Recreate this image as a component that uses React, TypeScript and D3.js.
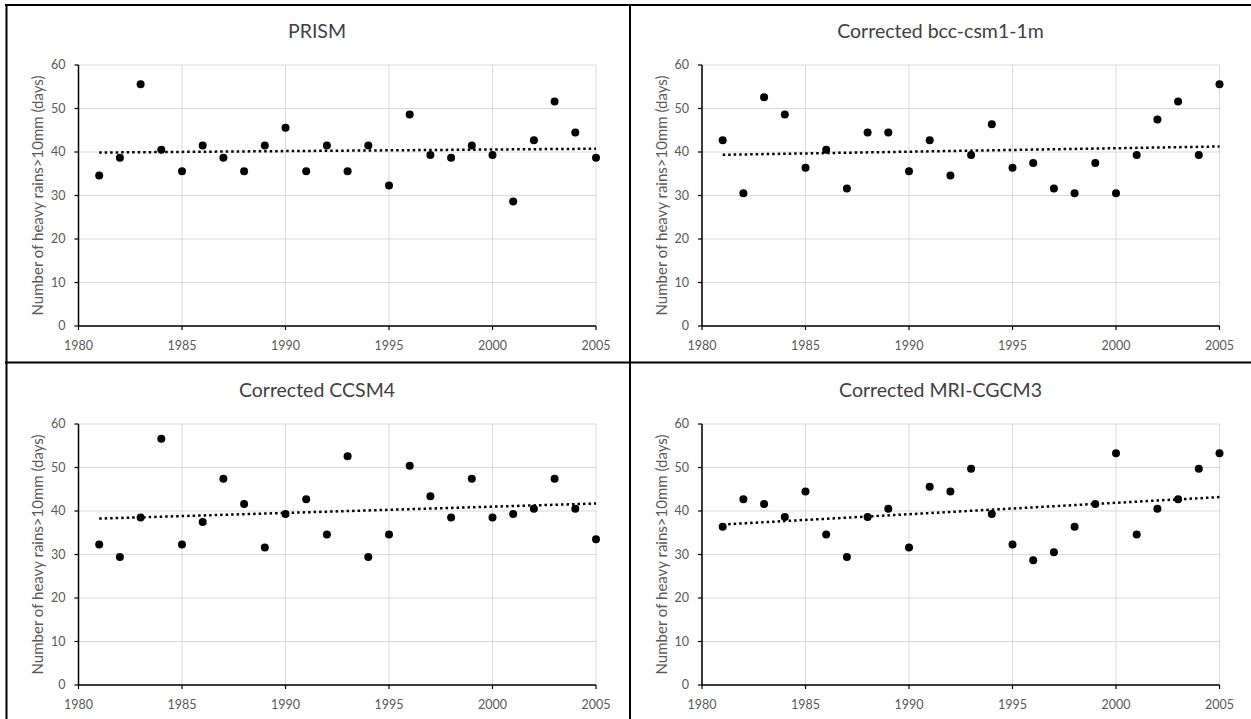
import React from "react";
import * as d3 from "d3";

// Years of record
const years: number[] = d3.range(1981, 2006);

// Annual count of heavy-rain days (>10 mm) for each dataset
const prism: number[] = [
  34.6, 38.7, 55.6, 40.5, 35.6, 41.5, 38.7, 35.6, 41.5, 45.6, 35.6, 41.5, 35.6,
  41.5, 32.3, 48.6, 39.3, 38.7, 41.5, 39.3, 28.6, 42.7, 51.6, 44.5, 38.7,
];
const bcc: number[] = [
  42.7, 30.5, 52.6, 48.6, 36.4, 40.5, 31.6, 44.5, 44.5, 35.6, 42.7, 34.6, 39.3,
  46.4, 36.4, 37.5, 31.6, 30.5, 37.5, 30.5, 39.3, 47.5, 51.6, 39.3, 55.6,
];
const ccsm4: number[] = [
  32.3, 29.4, 38.5, 56.6, 32.3, 37.5, 47.4, 41.6, 31.6, 39.3, 42.7, 34.6, 52.6,
  29.4, 34.6, 50.4, 43.4, 38.5, 47.4, 38.5, 39.3, 40.5, 47.4, 40.5, 33.5,
];
const mri: number[] = [
  36.4, 42.7, 41.6, 38.6, 44.5, 34.6, 29.4, 38.6, 40.5, 31.6, 45.6, 44.5, 49.7,
  39.3, 32.3, 28.7, 30.5, 36.4, 41.6, 53.3, 34.6, 40.5, 42.7, 49.7, 53.3,
];

const titles: string[] = [
  "PRISM",
  "Corrected bcc-csm1-1m",
  "Corrected CCSM4",
  "Corrected MRI-CGCM3",
];
const seriesList: number[][] = [prism, bcc, ccsm4, mri];

const xTicks: number[] = [1980, 1985, 1990, 1995, 2000, 2005];
const yTicks: number[] = [0, 10, 20, 30, 40, 50, 60];
const yLabel = "Number of heavy rains>10mm (days)";

const W = 1251;
const H = 719;
const FONT = "Lato, 'Open Sans', sans-serif";

// Panel frame in local coordinates
const plot = { left: 78.5, right: 596, top: 65, bottom: 326 };
const offsets = [
  { dx: 0, dy: 0 },
  { dx: 623.5, dy: 0 },
  { dx: 0, dy: 359 },
  { dx: 623.5, dy: 359 },
];

function linearFit(xs: number[], ys: number[]) {
  const mx = d3.mean(xs) as number;
  const my = d3.mean(ys) as number;
  let num = 0;
  let den = 0;
  xs.forEach((x, i) => {
    num += (x - mx) * (ys[i] - my);
    den += (x - mx) * (x - mx);
  });
  const slope = num / den;
  return (x: number) => my + slope * (x - mx);
}

function Panel({ title, values }: { title: string; values: number[] }) {
  const x = d3.scaleLinear().domain([1980, 2005]).range([plot.left, plot.right]);
  const y = d3.scaleLinear().domain([0, 60]).range([plot.bottom, plot.top]);
  const fit = linearFit(years, values);
  const x0 = years[0];
  const x1 = years[years.length - 1];
  return (
    <g>
      {/* gridlines */}
      {yTicks.map((t) => (
        <line
          key={"gy" + t}
          x1={plot.left}
          x2={plot.right}
          y1={y(t)}
          y2={y(t)}
          stroke="#d9d9d9"
          strokeWidth={1}
        />
      ))}
      {xTicks.map((t) => (
        <line
          key={"gx" + t}
          x1={x(t)}
          x2={x(t)}
          y1={plot.top}
          y2={plot.bottom}
          stroke="#d9d9d9"
          strokeWidth={1}
        />
      ))}
      {/* axes */}
      <line x1={plot.left} x2={plot.left} y1={plot.top} y2={plot.bottom} stroke="#000" strokeWidth={1.5} />
      <line x1={plot.left} x2={plot.right} y1={plot.bottom} y2={plot.bottom} stroke="#000" strokeWidth={1.5} />
      {yTicks.map((t) => (
        <g key={"ty" + t}>
          <line x1={plot.left - 4} x2={plot.left} y1={y(t)} y2={y(t)} stroke="#000" strokeWidth={1.2} />
          <text
            x={plot.left - 13}
            y={y(t)}
            dy="0.35em"
            textAnchor="end"
            fontFamily={FONT}
            fontSize={12.5}
            fill="#595959"
          >
            {t}
          </text>
        </g>
      ))}
      {xTicks.map((t) => (
        <g key={"tx" + t}>
          <line x1={x(t)} x2={x(t)} y1={plot.bottom} y2={plot.bottom + 4} stroke="#000" strokeWidth={1.2} />
          <text
            x={x(t)}
            y={plot.bottom + 23.5}
            textAnchor="middle"
            fontFamily={FONT}
            fontSize={12.5}
            fill="#595959"
          >
            {t}
          </text>
        </g>
      ))}
      {/* axis title */}
      <text
        transform={`translate(${38},${(plot.top + plot.bottom) / 2}) rotate(-90)`}
        dy="0.35em"
        textAnchor="middle"
        fontFamily={FONT}
        fontSize={15}
        fill="#595959"
      >
        {yLabel}
      </text>
      {/* chart title */}
      <text x={317} y={38} textAnchor="middle" fontFamily={FONT} fontSize={19.5} fill="#404040">
        {title}
      </text>
      {/* linear trend */}
      <line
        x1={x(x0)}
        x2={x(x1)}
        y1={y(fit(x0))}
        y2={y(fit(x1))}
        stroke="#000"
        strokeWidth={2.5}
        strokeDasharray="2.5 3"
      />
      {/* annual values */}
      {values.map((v, i) => (
        <circle key={"p" + i} cx={x(years[i])} cy={y(v)} r={4} fill="#000" />
      ))}
    </g>
  );
}

export default function App() {
  return (
    <svg
      width={W}
      height={H}
      style={{ position: "absolute", left: 0, top: 0, background: "#fff" }}
    >
      <rect x={0} y={0} width={W} height={H} fill="#fff" />
      {seriesList.map((vals, i) => (
        <g key={i} transform={`translate(${offsets[i].dx},${offsets[i].dy})`}>
          <Panel title={titles[i]} values={vals} />
        </g>
      ))}
      {/* cell borders */}
      <line x1={5} x2={W} y1={5} y2={5} stroke="#000" strokeWidth={2} />
      <line x1={6.5} x2={6.5} y1={4} y2={H} stroke="#000" strokeWidth={2} />
      <line x1={630} x2={630} y1={4} y2={H} stroke="#000" strokeWidth={2} />
      <line x1={5} x2={W} y1={362.5} y2={362.5} stroke="#000" strokeWidth={2} />
    </svg>
  );
}
